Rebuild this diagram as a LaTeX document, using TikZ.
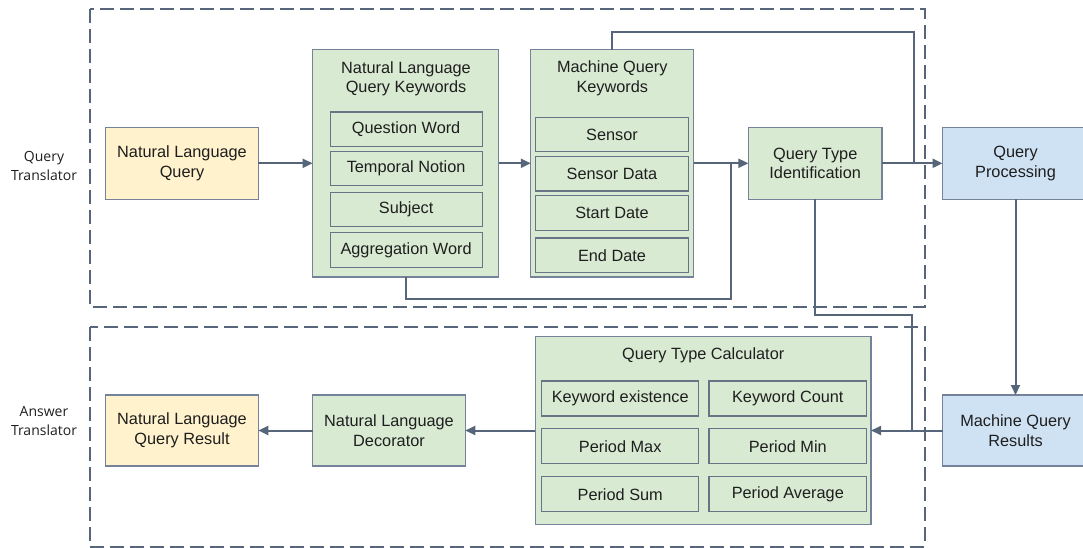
\documentclass[tikz,border=0pt]{standalone}
\usepackage{fontspec}
\setmainfont{Liberation Sans}
\newfontfamily\sidefont{Open Sans}
\usetikzlibrary{arrows.meta}

\definecolor{linegray}{HTML}{566579}
\definecolor{boxedge}{HTML}{75839A}
\definecolor{greenfill}{HTML}{D9EAD3}
\definecolor{yellowfill}{HTML}{FFF2CC}
\definecolor{bluefill}{HTML}{CFE2F3}
\definecolor{textgray}{HTML}{1E1E1E}

\tikzset{
	box/.style={draw=boxedge, line width=1.2pt, inner sep=0pt, outer sep=0pt, align=center, text=textgray, font=\fontsize{16.3}{19.5}\selectfont},
	greenbox/.style={box, fill=greenfill},
	yellowbox/.style={box, fill=yellowfill},
	bluebox/.style={box, fill=bluefill},
	subbox/.style={greenbox, draw=linegray!90, minimum height=34.5pt},
	boxtitle/.style={align=center, inner sep=0pt, text=textgray, font=\fontsize{16.3}{19.5}\selectfont},
	sidelabel/.style={align=center, inner sep=0pt, text=textgray, font=\sidefont\fontsize{14}{19}\selectfont},
	region/.style={draw=linegray, line width=2pt, dash pattern=on 14pt off 6pt},
	link/.style={draw=linegray, line width=2pt},
	flow/.style={link, -{Triangle[length=10pt,width=9pt]}}
}

\begin{document}
\begin{tikzpicture}[x=1pt, y=-1pt]
			%%%%% START %%%%%
			\useasboundingbox (0,0) rectangle (1083,548);
			
			% the two translator regions
			\draw[region] (89.5,9.5) rectangle (924.7,306.5);
			\draw[region] (89.5,327.3) rectangle (924.7,546.5);
			\node[sidelabel] (qtlabel) at (44,166) {Query\\Translator};
			\node[sidelabel] (atlabel) at (44,421.5) {Answer\\Translator};
			
			% query translator
			\node[yellowbox, minimum width=152.6pt, minimum height=71.6pt] (nlq) at (182,163.3) {Natural Language\\Query};
			
			\node[greenbox, minimum width=186pt, minimum height=227.4pt] (nlqk) at (405.6,163.3) {};
			\node[boxtitle] (nlqktitle) at (406,79) {Natural Language\\Query Keywords};
			\node[subbox, minimum width=152pt] (qword) at (406.1,129.2) {Question Word};
			\node[subbox, minimum width=152pt] (tnotion) at (406.1,168.4) {Temporal Notion};
			\node[subbox, minimum width=152pt] (subject) at (406.1,209.5) {Subject};
			\node[subbox, minimum width=152pt] (aword) at (406.1,250) {Aggregation Word};
			
			\node[greenbox, minimum width=163pt, minimum height=227.4pt] (mqk) at (612.3,163.3) {};
			\node[boxtitle] (mqktitle) at (612.3,78.5) {Machine Query\\Keywords};
			\node[subbox, minimum width=153pt] (sensor) at (612,134.5) {Sensor};
			\node[subbox, minimum width=153pt] (sdata) at (612,173.7) {Sensor Data};
			\node[subbox, minimum width=153pt] (sdate) at (612,213) {Start Date};
			\node[subbox, minimum width=153pt] (edate) at (612,255.2) {End Date};
			
			\node[greenbox, minimum width=133.6pt, minimum height=71.6pt] (qti) at (815.2,163.3) {Query Type\\Identification};
			
			\node[bluebox, minimum width=146pt, minimum height=71.6pt] (qp) at (1015.5,163.3) {Query\\Processing};
			\node[bluebox, minimum width=146pt, minimum height=71pt] (mqr) at (1015.5,430.5) {Machine Query\\Results};
			
			% answer translator
			\node[greenbox, minimum width=335.6pt, minimum height=187.3pt] (qtc) at (703.2,430.5) {};
			\node[boxtitle] (qtctitle) at (703.2,355.5) {Query Type Calculator};
			\node[subbox, minimum width=157.3pt, minimum height=35pt] (kwexist) at (620.2,398.5) {Keyword existence};
			\node[subbox, minimum width=157.5pt, minimum height=35pt] (kwcount) at (787.8,398.5) {Keyword Count};
			\node[subbox, minimum width=157.3pt, minimum height=35pt] (pmax) at (620.2,446.3) {Period Max};
			\node[subbox, minimum width=157.5pt, minimum height=35pt] (pmin) at (787.8,446.3) {Period Min};
			\node[subbox, minimum width=157.3pt, minimum height=35pt] (psum) at (620.2,494.2) {Period Sum};
			\node[subbox, minimum width=157.5pt, minimum height=35pt] (pavg) at (787.8,494.2) {Period Average};
			
			\node[greenbox, minimum width=152.5pt, minimum height=71pt] (nld) at (389,430.5) {Natural Language\\Decorator};
			\node[yellowbox, minimum width=152.6pt, minimum height=71pt] (nlqr) at (182,430.5) {Natural Language\\Query Result};
			
			% connectors
			\coordinate (joinA) at (730.7,163.3);
			\coordinate (joinB) at (913.5,163.3);
			\coordinate (joinC) at (912.3,430.5);
			
			\draw[flow] (nlq) -- (nlqk);
			\draw[flow] (nlqk) -- (mqk);
			\draw[flow] (mqk) -- (qti);
			\draw[link] (nlqk.south) -- ++(0,22) -| (joinA);
			\draw[link] (mqk.north) -- ++(0,-18) -| (joinB);
			\draw[flow] (qti) -- (qp);
			\draw[link] (qti.south) -- ++(0,116) -| (joinC);
			\draw[flow] (qp) -- (mqr);
			\draw[flow] (mqr) -- (qtc);
			\draw[flow] (qtc) -- (nld);
			\draw[flow] (nld) -- (nlqr);
			
			%%%%% END %%%%%
\end{tikzpicture}
\end{document}
